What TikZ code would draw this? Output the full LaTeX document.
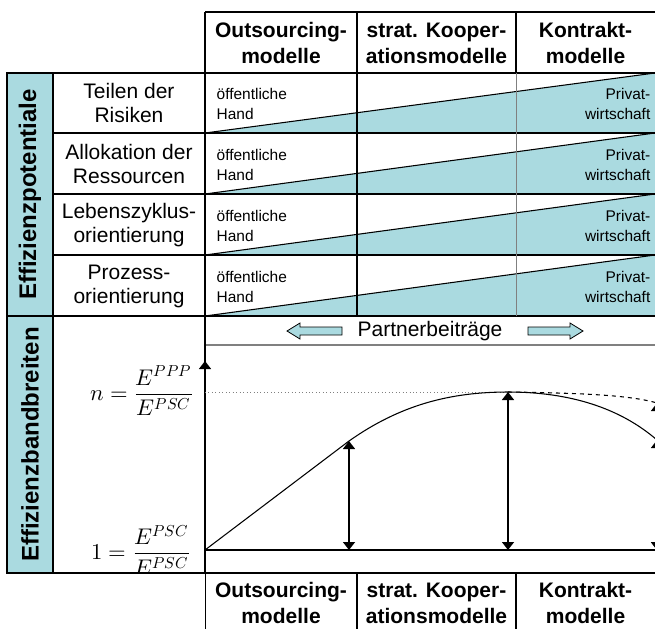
\documentclass[tikz,border=0pt]{standalone}
\usepackage{fontspec}
\usepackage{unicode-math}
\setmainfont{Liberation Sans}
\usetikzlibrary{arrows.meta}
\definecolor{hellblau}{RGB}{170,218,224}
\definecolor{grau}{RGB}{128,128,128}
\begin{document}
\begin{tikzpicture}[x=0.75pt,y=-0.75pt,line width=1pt,>={Triangle[width=9pt,length=6pt]},
  kopf/.style={font=\fontsize{15.75}{19.5}\selectfont\bfseries,align=center},
  zeile/.style={font=\fontsize{15.75}{18}\selectfont,align=center},
  klein/.style={font=\fontsize{11.6}{14.6}\selectfont,inner sep=0pt},
  seite/.style={font=\fontsize{18}{20}\selectfont\bfseries,rotate=90},
  keil/.style={fill=hellblau},
  partner/.style={fill=hellblau,draw=black,line width=0.6pt},
  formel/.style={font=\fontsize{17}{20}\selectfont,inner sep=0pt,anchor=east}]
\useasboundingbox (0,0) rectangle (655,629);
\clip (0,0) rectangle (655,629);

% blaue Keile in den vier Zeilen
\fill[keil] (205,133) -- (655,73) -- (655,133) -- cycle;
\fill[keil] (205,194) -- (655,133) -- (655,194) -- cycle;
\fill[keil] (205,255) -- (655,194) -- (655,255) -- cycle;
\fill[keil] (205,316) -- (655,255) -- (655,316) -- cycle;
\draw[line width=0.8pt] (205,133) -- (655,73);
\draw[line width=0.8pt] (205,194) -- (655,133);
\draw[line width=0.8pt] (205,255) -- (655,194);
\draw[line width=0.8pt] (205,316) -- (655,255);

% linke Spalte
\draw[fill=hellblau] (7,73) rectangle (53,573);
\node[seite] (potentiale) at (30,194.5) {Effizienzpotentiale};
\node[seite] (bandbreiten) at (30,444.5) {Effizienzbandbreiten};

% Gitter
\draw (205,12) -- (655,12);
\draw (7,73) -- (655,73);
\draw (53,133) -- (655,133);
\draw (53,194) -- (655,194);
\draw (53,255) -- (655,255);
\draw (7,316) -- (655,316);
\draw[grau] (205,345) -- (655,345);
\draw (205,12) -- (205,629);
\draw (357,12) -- (357,316);
\draw (516,12) -- (516,73);
\draw[grau,line width=0.7pt] (516,73) -- (516,316);
\draw (357,573) -- (357,629);
\draw (516,573) -- (516,629);

% Spaltenkoepfe
\node[kopf] (outs) at (281,43) {Outsourcing-\\modelle};
\node[kopf] (koop) at (436.5,43) {strat. Kooper-\\ationsmodelle};
\node[kopf] (kontr) at (585.5,43) {Kontrakt-\\modelle};

% Zeilen
\node[zeile] (risiken) at (129,103) {Teilen der\\Risiken};
\node[zeile] (ressourcen) at (129,164) {Allokation der\\Ressourcen};
\node[zeile] (zyklus) at (129,225) {Lebenszyklus-\\orientierung};
\node[zeile] (prozess) at (129,286) {Prozess-\\orientierung};

\node[klein,anchor=west,align=left] (oh1) at (216,104) {öffentliche\\Hand};
\node[klein,anchor=west,align=left] (oh2) at (216,165) {öffentliche\\Hand};
\node[klein,anchor=west,align=left] (oh3) at (216,226) {öffentliche\\Hand};
\node[klein,anchor=west,align=left] (oh4) at (216,287) {öffentliche\\Hand};
\node[klein,anchor=east,align=right] (pw1) at (651,104) {Privat-\\wirtschaft};
\node[klein,anchor=east,align=right] (pw2) at (651,165) {Privat-\\wirtschaft};
\node[klein,anchor=east,align=right] (pw3) at (651,226) {Privat-\\wirtschaft};
\node[klein,anchor=east,align=right] (pw4) at (651,287) {Privat-\\wirtschaft};

% Partnerbeitraege
\node[zeile] (beitrag) at (430,331) {Partnerbeiträge};
\draw[partner] (342,327) -- (300,327) -- (300,323) -- (287,331) -- (300,339) -- (300,335) -- (342,335) -- cycle;
\draw[partner] (528,327) -- (570,327) -- (570,323) -- (583,331) -- (570,339) -- (570,335) -- (528,335) -- cycle;

% Effizienzkurve
\coordinate (null) at (205,550);
\coordinate (knick) at (349,441);
\coordinate (spitze) at (508,392);
\coordinate (rand) at (657,440);
\coordinate (randoben) at (657,403);
\coordinate (knickfuss) at (349,550);
\coordinate (spitzefuss) at (508,550);
\coordinate (randfuss) at (657,550);

\draw[->] (null) -- (205,361);
\draw (null) -- (655,550);
\draw[grau,dotted,line width=0.6pt] (205,392) -- (spitze);
\draw[line width=0.8pt] (null) -- (knick) .. controls (400,405) and (450,392) .. (spitze)
  .. controls (570,392) and (620,408) .. (rand);
\draw[dashed,line width=0.8pt] (spitze) .. controls (580,393) and (630,395) .. (randoben);
\draw[<->,line width=1.1pt] (knick) -- (knickfuss);
\draw[<->,line width=1.1pt] (spitze) -- (spitzefuss);
\draw[<->,line width=1.1pt] (rand) -- (randfuss);
\draw[<->,line width=1.1pt] (randoben) -- (randfuss);

\node[formel] (nwert) at (194,391) {$n=\dfrac{E^{PPP}}{E^{PSC}}$};
\node[formel] (eins) at (191,550) {$1=\dfrac{E^{PSC}}{E^{PSC}}$};
\fill[white] (54,573.5) rectangle (204.5,629);
\draw (7,573) -- (655,573);

% untere Spaltenkoepfe
\node[kopf] (outsu) at (281,603) {Outsourcing-\\modelle};
\node[kopf] (koopu) at (436.5,603) {strat. Kooper-\\ationsmodelle};
\node[kopf] (kontru) at (585.5,603) {Kontrakt-\\modelle};
\end{tikzpicture}
\end{document}
